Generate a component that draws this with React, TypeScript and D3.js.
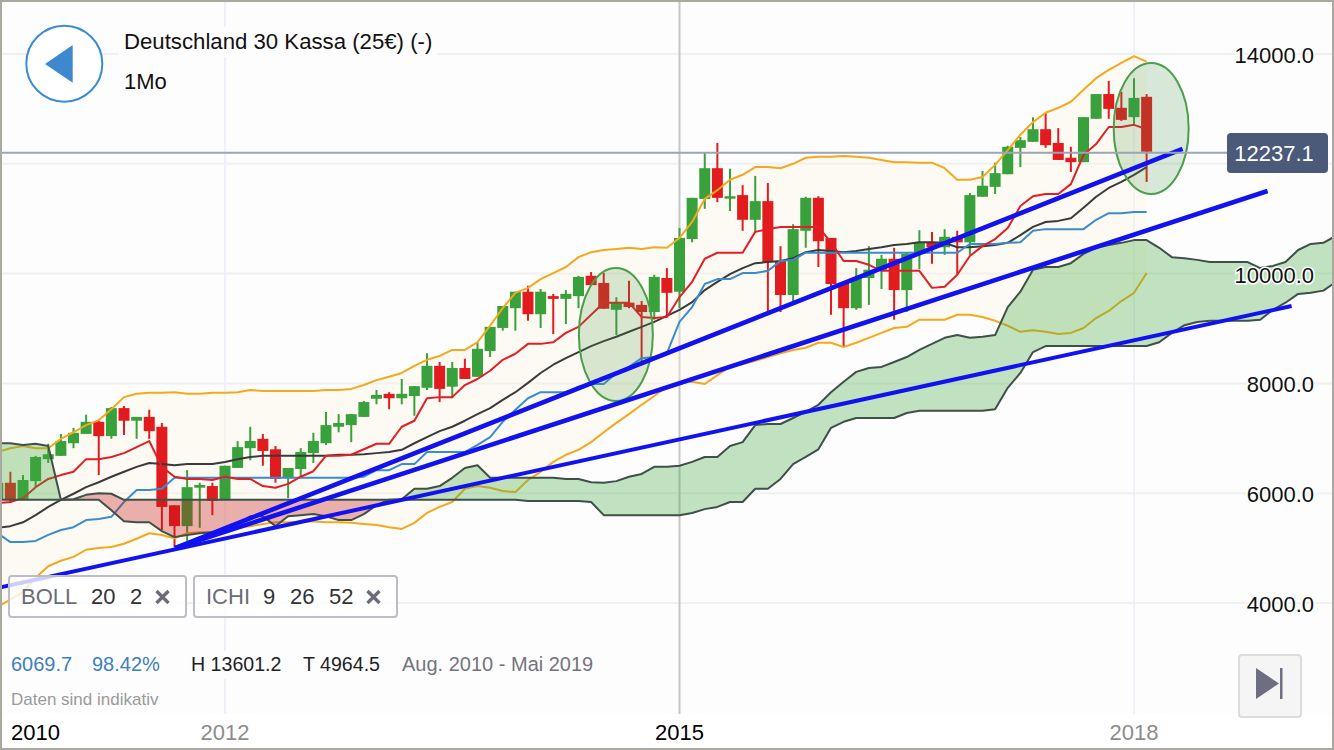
import { useEffect, useRef } from 'react';
import * as d3 from 'd3';

// monthly candles, first one is Jul 2010 (mostly cut off at the left edge)
const opens = [
  5880, 6190, 5890, 6220, 6620, 6680, 6910, 7080, 7300, 7040, 7550, 7320, 7390, 7210, 5780, 5400, 6100, 6130, 5880, 6460,
  6820, 6990, 6800, 6280, 6440, 6730, 6910, 7210, 7240, 7390, 7720, 7810, 7730, 7770, 7920, 8320, 7940, 8280, 8120, 8590,
  9010, 9370, 9670, 9260, 9590, 9540, 9590, 9960, 9830, 9340, 9470, 9430, 9300, 9920, 9670, 10630, 11360, 11920, 11380, 11430,
  10980, 11320, 10230, 9610, 10780, 11380, 10650, 9830, 9370, 9920, 10070, 10270, 9700, 10360, 10570, 10480, 10670, 10570, 11400, 11580,
  11810, 12290, 12400, 12630, 12380, 12110, 12030, 12820, 13270, 13020, 12850, 13220,
];
const closes = [
  6190, 5880, 6240, 6660, 6710, 6950, 7100, 7300, 7040, 7550, 7320, 7390, 7130, 5750, 5400, 6110, 6150, 5860, 6500, 6840,
  6950, 6770, 6260, 6460, 6750, 6950, 7240, 7280, 7440, 7660, 7790, 7730, 7810, 7950, 8320, 7900, 8280, 8080, 8630, 9030,
  9410, 9670, 9260, 9670, 9540, 9630, 9940, 9790, 9360, 9470, 9390, 9300, 9940, 9650, 10650, 11380, 11920, 11380, 11410, 10980,
  11320, 10210, 9610, 10810, 11380, 10590, 9810, 9370, 9920, 10070, 10270, 9700, 10360, 10560, 10480, 10670, 10570, 11430, 11600, 11830,
  12310, 12430, 12630, 12340, 12070, 12030, 12850, 13270, 13000, 12800, 13200, 12220,
];
const highs = [
  6240, 6390, 6330, 6680, 6900, 7080, 7190, 7430, 7330, 7570, 7590, 7390, 7520, 7280, 5780, 6420, 6190, 6190, 6500, 6950,
  7210, 7080, 6860, 6460, 6820, 7100, 7480, 7440, 7440, 7680, 7880, 7840, 8080, 7950, 8550, 8390, 8390, 8450, 8740, 9030,
  9410, 9670, 9780, 9720, 9630, 9700, 9960, 10030, 10010, 9570, 9870, 9500, 9980, 10100, 10830, 11380, 12200, 12380, 11910, 11610,
  11780, 11650, 10500, 10900, 11400, 11410, 10650, 9830, 10100, 10500, 10340, 10470, 10380, 10790, 10760, 10810, 10780, 11470, 11870, 12020,
  12330, 12490, 12850, 12930, 12650, 12310, 12850, 13270, 13510, 13310, 13560, 13270,
];
const lows = [
  5820, 5820, 5880, 6110, 6550, 6680, 6820, 7080, 6330, 6990, 7060, 6990, 6990, 5330, 5020, 5130, 5370, 5600, 5880, 6460,
  6600, 6500, 6190, 5910, 6280, 6550, 6880, 7110, 6930, 7390, 7620, 7530, 7620, 7410, 7880, 7660, 7730, 8080, 8120, 8480,
  8960, 8960, 9140, 9010, 8900, 9080, 9370, 9790, 9360, 8880, 9370, 8370, 9160, 9210, 9370, 10570, 11180, 11300, 11140, 10780,
  10740, 9300, 9300, 9470, 10470, 10120, 9250, 8660, 9340, 9430, 9720, 9160, 9300, 10080, 10180, 10340, 9980, 10340, 11400, 11450,
  11810, 11940, 12400, 12290, 12070, 11850, 12030, 12820, 12820, 12780, 12720, 11670,
];

// Bollinger 20 / 2
const bollUpper = [
  6750, 6820, 6860, 6820, 6820, 6990, 7110, 7240, 7330, 7530, 7750, 7810, 7830, 7830, 7840, 7810, 7810, 7830, 7830, 7840,
  7880, 7860, 7860, 7860, 7860, 7860, 7880, 7880, 7900, 7970, 8060, 8120, 8190, 8320, 8430, 8500, 8610, 8610, 8750, 9050,
  9370, 9650, 9740, 9900, 10010, 10120, 10300, 10390, 10430, 10450, 10470, 10450, 10480, 10470, 10650, 10940, 11360, 11520, 11710, 11800,
  11940, 11940, 11920, 12000, 12110, 12130, 12130, 12140, 12130, 12110, 12070, 12030, 12030, 12020, 12020, 11920, 11710, 11710, 11760, 11980,
  12250, 12530, 12760, 12930, 13020, 13130, 13350, 13560, 13710, 13840, 13960, 13860,
];
const bollMid = [
  5370, 5400, 5470, 5600, 5750, 5880, 5990, 6110, 6200, 6300, 6390, 6480, 6550, 6530, 6510, 6530, 6530, 6530, 6570, 6620,
  6660, 6680, 6680, 6680, 6680, 6680, 6680, 6700, 6700, 6710, 6730, 6750, 6790, 6910, 7020, 7130, 7210, 7320, 7440, 7550,
  7700, 7840, 8010, 8190, 8340, 8460, 8570, 8680, 8770, 8850, 8940, 9030, 9120, 9230, 9340, 9480, 9700, 9850, 9990, 10100,
  10190, 10210, 10230, 10280, 10390, 10430, 10410, 10390, 10410, 10450, 10480, 10520, 10540, 10570, 10570, 10560, 10480, 10480, 10500, 10520,
  10560, 10700, 10850, 10940, 10960, 11010, 11200, 11400, 11560, 11670, 11800, 11940,
];
const bollLower = [
  3930, 4060, 4200, 4460, 4670, 4770, 4840, 4970, 5000, 5020, 5080, 5170, 5270, 5240, 5180, 5270, 5290, 5290, 5330, 5370,
  5400, 5440, 5470, 5470, 5470, 5490, 5470, 5470, 5460, 5440, 5420, 5380, 5350, 5460, 5640, 5750, 5840, 6080, 6130, 6100,
  6040, 6020, 6240, 6390, 6570, 6700, 6790, 6930, 7110, 7280, 7440, 7610, 7770, 7940, 8010, 8030, 7990, 8150, 8300, 8350,
  8410, 8480, 8550, 8610, 8650, 8740, 8740, 8660, 8740, 8830, 8920, 9010, 9030, 9160, 9160, 9160, 9250, 9250, 9210, 9140,
  9050, 8940, 8970, 8940, 8900, 8920, 9010, 9190, 9320, 9500, 9650, 10010,
];

// Ichimoku 9 / 26 / 52
const tenkan = [
  5820, 5840, 5910, 6110, 6260, 6330, 6390, 6620, 6620, 6660, 6730, 6840, 6950, 6480, 6300, 6260, 6260, 6240, 6300, 6260,
  6260, 6130, 6100, 6170, 6300, 6400, 6680, 6680, 6700, 6800, 6900, 6900, 7210, 7320, 7730, 7750, 7750, 7970, 8080, 8230,
  8430, 8540, 8720, 8720, 8750, 8920, 9030, 9250, 9470, 9470, 9470, 9210, 9190, 9210, 9570, 9850, 10270, 10380, 10380, 10380,
  10760, 10810, 10850, 10850, 10850, 10850, 10570, 10230, 10230, 10160, 10050, 10050, 10050, 10050, 9740, 9760, 9980, 10320, 10500, 10630,
  10830, 11230, 11410, 11450, 11450, 11630, 12160, 12360, 12670, 12670, 12710, 12630,
];
const kijun = [
  5270, 5110, 5110, 5130, 5240, 5330, 5380, 5510, 5530, 5570, 5840, 6060, 6060, 6080, 6280, 6280, 6280, 6280, 6280, 6280,
  6280, 6280, 6280, 6280, 6280, 6280, 6280, 6280, 6280, 6300, 6420, 6420, 6530, 6530, 6750, 6750, 6750, 6750, 6880, 7020,
  7300, 7520, 7730, 7840, 7840, 7840, 7940, 7990, 7990, 8190, 8300, 8460, 8480, 8550, 9120, 9390, 9810, 9900, 9900, 10010,
  10010, 10050, 10230, 10250, 10380, 10380, 10380, 10380, 10380, 10380, 10380, 10380, 10380, 10380, 10380, 10380, 10380, 10540, 10540, 10540,
  10560, 10570, 10780, 10810, 10810, 10810, 10810, 10980, 11100, 11100, 11120, 11120,
];
// cloud runs 26 months past the last candle
const spanA = [
  6910, 6910, 6880, 6900, 6860, 5880, 5880, 5880, 5880, 5690, 5490, 5470, 5470, 5310, 5200, 5240, 5270, 5290, 5330, 5440,
  5580, 5580, 5400, 5580, 5600, 5620, 5580, 5510, 5510, 5620, 5780, 5880, 5890, 6080, 6080, 6130, 6280, 6460, 6510, 6280,
  6280, 6280, 6280, 6280, 6280, 6260, 6260, 6200, 6190, 6220, 6300, 6350, 6480, 6480, 6500, 6570, 6660, 6660, 6860, 6930,
  7240, 7260, 7260, 7370, 7480, 7610, 7840, 8030, 8210, 8280, 8300, 8390, 8480, 8610, 8720, 8830, 8880, 8830, 8850, 8880,
  9390, 9670, 10070, 10120, 10120, 10190, 10360, 10470, 10520, 10560, 10610, 10610, 10470, 10300, 10280, 10250, 10210, 10210, 10210, 10210,
  10100, 10140, 10210, 10430, 10540, 10560, 10690,
];
const spanB = [
  5880, 5880, 5880, 5880, 5880, 5880, 5890, 5970, 6000, 5990, 5880, 5880, 5880, 5880, 5880, 5880, 5880, 5880, 5880, 5880,
  5880, 5880, 5880, 5880, 5880, 5880, 5880, 5880, 5880, 5880, 5880, 5880, 5880, 5880, 5880, 5880, 5880, 5880, 5880, 5880,
  5880, 5880, 5860, 5860, 5860, 5860, 5860, 5840, 5600, 5600, 5600, 5600, 5600, 5600, 5600, 5640, 5710, 5750, 5840, 5840,
  6080, 6080, 6260, 6530, 6660, 6800, 7190, 7300, 7370, 7370, 7370, 7370, 7460, 7500, 7500, 7500, 7500, 7500, 7500, 7530,
  7920, 8190, 8570, 8680, 8680, 8680, 8680, 8680, 8680, 8680, 8680, 8680, 8750, 8920, 9060, 9120, 9140, 9140, 9140, 9140,
  9160, 9340, 9470, 9630, 9650, 9690, 9850,
];

const priceTicks = [4000, 6000, 8000, 10000, 12000, 14000];
const yearLabels = ['2012', '2015', '2018'];
const yearMonths = [17, 53, 89];
const yearMajor = [false, true, false];

// hand drawn on the chart: [month, price] pairs
const trendLines = [
  [[13.04, 5000], [92.85, 12270]],
  [[13.04, 5000], [99.58, 11505]],
  [[-0.82, 4283], [101.48, 9410]],
];
// [month, price, months radius, price radius]
const circled = [
  [47.96, 8891, 2.93, 1211],
  [90.36, 12643, 2.97, 1193],
];

const lastPriceLevel = 12200;
const lastPriceText = '12237.1';

const W = 1334;
const H = 750;
const FONT = '"Liberation Sans", Arial, sans-serif';
const GREEN = '#39a13c';
const RED = '#e21b1f';

const App = () => {
  const svgRef = useRef<SVGSVGElement>(null);

  useEffect(() => {
    if (!svgRef.current) return;
    const svg = d3.select(svgRef.current);
    svg.selectAll('*').remove();
    svg.style('font-family', FONT);

    // month index -> px, index 0 is Aug 2010
    const x = d3.scaleLinear().domain([17, 89]).range([225, 1134]);
    const y = d3.scaleLinear().domain([4000, 14000]).range([603, 54]);
    const mx = (i: number) => x(i - 1); // arrays start one month earlier

    svg.append('rect').attr('width', W).attr('height', H).attr('fill', '#fff');
    svg.append('rect').attr('x', 2).attr('y', 2).attr('width', W - 4).attr('height', 712).attr('fill', '#fdfdfd');

    const defs = svg.append('defs');
    defs.append('clipPath').attr('id', 'plot').append('rect').attr('x', 2).attr('y', 2).attr('width', W - 4).attr('height', 712);

    const grid = svg.append('g');
    grid.selectAll('line.h').data(priceTicks).join('line')
      .attr('x1', 2).attr('x2', W - 2)
      .attr('y1', (d) => y(d)).attr('y2', (d) => y(d))
      .attr('stroke', '#f0f0f0').attr('stroke-width', 2);
    grid.selectAll('line.v').data(yearMonths).join('line')
      .attr('x1', (d) => x(d)).attr('x2', (d) => x(d))
      .attr('y1', 2).attr('y2', 714)
      .attr('stroke', (_, i) => (yearMajor[i] ? '#c6c6c6' : '#eef1f8'))
      .attr('stroke-width', 2);

    const plot = svg.append('g').attr('clip-path', 'url(#plot)');

    // bollinger band background
    const band = d3.area<number>()
      .x((_, i) => mx(i))
      .y0((_, i) => y(bollLower[i]))
      .y1((d) => y(d));
    plot.append('path').attr('d', band(bollUpper)).attr('fill', '#fdf3e0').attr('fill-opacity', 0.36);

    // candles
    const candles = plot.append('g');
    opens.forEach((o, i) => {
      const c = closes[i];
      const col = c >= o ? GREEN : RED;
      candles.append('line')
        .attr('x1', mx(i)).attr('x2', mx(i))
        .attr('y1', y(highs[i])).attr('y2', y(lows[i]))
        .attr('stroke', col).attr('stroke-width', 2);
      const top = y(Math.max(o, c));
      const bot = y(Math.min(o, c));
      candles.append('rect')
        .attr('x', mx(i) - 5.5).attr('width', 11)
        .attr('y', top).attr('height', Math.max(bot - top, 2.5))
        .attr('fill', col);
    });

    const line = d3.line<number>().x((_, i) => mx(i)).y((d) => y(d));
    const drawLine = (vals: number[], color: string, w: number) =>
      plot.append('path').attr('d', line(vals)).attr('fill', 'none')
        .attr('stroke', color).attr('stroke-width', w).attr('stroke-linejoin', 'round');

    drawLine(bollUpper, '#f5a81c', 2);
    drawLine(bollLower, '#f5a81c', 2);
    drawLine(bollMid, '#3a3a3a', 2);
    drawLine(kijun, '#3b8ccb', 2);
    drawLine(tenkan, '#e21e26', 2);

    // cloud goes over the candles, thats why they look brownish on the left
    const cloud = (keep: (i: number) => boolean) =>
      d3.area<number>()
        .defined((_, i) => keep(i))
        .x((_, i) => mx(i))
        .y0((_, i) => y(spanB[i]))
        .y1((d) => y(d));
    plot.append('path').attr('d', cloud((i) => spanA[i] >= spanB[i])(spanA))
      .attr('fill', 'rgb(66,170,66)').attr('fill-opacity', 0.32);
    plot.append('path').attr('d', cloud((i) => spanA[i] <= spanB[i])(spanA))
      .attr('fill', 'rgb(200,20,20)').attr('fill-opacity', 0.32);
    drawLine(spanA, '#3f5048', 2);
    drawLine(spanB, '#3f5048', 2);

    // annotations
    circled.forEach(([m, p, rm, rp]) => {
      plot.append('ellipse')
        .attr('cx', mx(m + 1)).attr('cy', y(p))
        .attr('rx', x(rm) - x(0)).attr('ry', y(0) - y(rp))
        .attr('fill', 'rgb(70,150,70)').attr('fill-opacity', 0.2)
        .attr('stroke', '#4a9f4a').attr('stroke-width', 2);
    });
    trendLines.forEach(([a, b], i) => {
      plot.append('line')
        .attr('x1', mx(a[0] + 1)).attr('y1', y(a[1]))
        .attr('x2', mx(b[0] + 1)).attr('y2', y(b[1]))
        .attr('stroke', '#1212f0').attr('stroke-width', i === 2 ? 4 : 4.6);
    });

    // last price line
    plot.append('line')
      .attr('x1', 2).attr('x2', 1228)
      .attr('y1', y(lastPriceLevel)).attr('y2', y(lastPriceLevel))
      .attr('stroke', '#9aa5b5').attr('stroke-width', 2);

    // price labels
    svg.append('g').selectAll('text').data(priceTicks).join('text')
      .attr('x', 1314).attr('y', (d) => y(d) + 9)
      .attr('text-anchor', 'end').attr('font-size', 22).attr('fill', '#111')
      .attr('stroke', '#fff').attr('stroke-width', 3).attr('paint-order', 'stroke')
      .text((d) => d3.format('.1f')(d));

    svg.append('rect').attr('x', 1227).attr('y', 133).attr('width', 101).attr('height', 40).attr('rx', 4).attr('fill', '#4a5a78');
    svg.append('text').attr('x', 1274).attr('y', 161).attr('text-anchor', 'middle')
      .attr('font-size', 22).attr('fill', '#fff').text(lastPriceText);

    // header
    svg.append('rect').attr('x', 119).attr('y', 27).attr('width', 318).attr('height', 30).attr('fill', '#fdfdfd');
    svg.append('circle').attr('cx', 64.3).attr('cy', 63.7).attr('r', 38)
      .attr('fill', '#fff').attr('stroke', '#3d8bd0').attr('stroke-width', 2);
    svg.append('path').attr('d', 'M45,64L72.7,45V82.7Z').attr('fill', '#3d88cf');
    svg.append('text').attr('x', 124).attr('y', 48.5).attr('font-size', 22.2).attr('fill', '#111')
      .text('Deutschland 30 Kassa (25€) (-)');
    svg.append('text').attr('x', 124).attr('y', 89).attr('font-size', 22).attr('fill', '#111').text('1Mo');

    // indicator pills
    const pill = (px: number, w: number, name: string, params: [string, number][], xAt: number) => {
      svg.append('rect').attr('x', px).attr('y', 576).attr('width', w).attr('height', 41).attr('rx', 3)
        .attr('fill', '#fff').attr('fill-opacity', 0.78).attr('stroke', '#bcbdc5').attr('stroke-width', 2);
      svg.append('text').attr('x', px + 12).attr('y', 604).attr('font-size', 22).attr('fill', '#6c6c78').text(name);
      params.forEach(([t, at]) => {
        svg.append('text').attr('x', at).attr('y', 604).attr('font-size', 22).attr('fill', '#333').text(t);
      });
      svg.append('path').attr('d', `M${xAt - 6},${591}L${xAt + 6},${603}M${xAt + 6},${591}L${xAt - 6},${603}`)
        .attr('stroke', '#6c6c7a').attr('stroke-width', 3.4);
    };
    pill(9, 177, 'BOLL', [['20', 91], ['2', 130]], 162.5);
    pill(194, 203, 'ICHI', [['9', 263], ['26', 290], ['52', 329]], 373.5);

    // stats row
    svg.append('rect').attr('x', 8).attr('y', 651).attr('width', 592).attr('height', 28).attr('fill', '#fdfdfd');
    const stat = (tx: number, t: string, col: string, size: number) =>
      svg.append('text').attr('x', tx).attr('y', 671).attr('font-size', size).attr('fill', col).text(t);
    stat(11, '6069.7', '#3b80bd', 20);
    stat(92, '98.42%', '#3b80bd', 20);
    stat(191, 'H 13601.2', '#222', 19.6);
    stat(303, 'T 4964.5', '#222', 19.6);
    stat(402, 'Aug. 2010 - Mai 2019', '#74747e', 20);
    svg.append('text').attr('x', 11).attr('y', 705).attr('font-size', 17).attr('fill', '#9a9a9a').text('Daten sind indikativ');

    // skip to end button
    svg.append('rect').attr('x', 1239).attr('y', 655).attr('width', 62).attr('height', 62).attr('rx', 3)
      .attr('fill', '#f5f5f6').attr('stroke', '#dcdce0').attr('stroke-width', 2);
    svg.append('path').attr('d', 'M1256,668V699L1279,683.5Z').attr('fill', '#6e6e80');
    svg.append('rect').attr('x', 1280).attr('y', 668).attr('width', 2.5).attr('height', 31).attr('fill', '#6e6e80');

    // year labels
    svg.append('text').attr('x', 11).attr('y', 740).attr('font-size', 22).attr('fill', '#000').text('2010');
    svg.append('g').selectAll('text').data(yearLabels).join('text')
      .attr('x', (_, i) => x(yearMonths[i])).attr('y', 740)
      .attr('text-anchor', 'middle').attr('font-size', 22)
      .attr('fill', (_, i) => (yearMajor[i] ? '#000' : '#8c8c8c'))
      .text((d) => d);

    // window frame
    svg.append('rect').attr('x', 1).attr('y', 1).attr('width', W - 2).attr('height', H - 2)
      .attr('fill', 'none').attr('stroke', '#a9a9a2').attr('stroke-width', 2);
  }, []);

  return <svg ref={svgRef} width={W} height={H} style={{ position: 'fixed', left: 0, top: 0, display: 'block' }} />;
};

export default App;
